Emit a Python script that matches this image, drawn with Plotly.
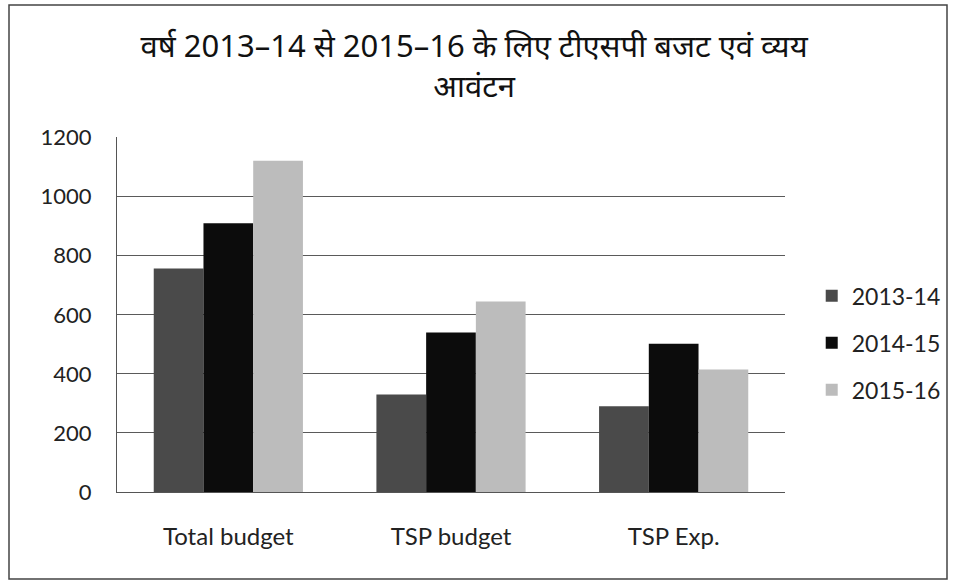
import plotly.graph_objects as go

categories = ["Total budget", "TSP budget", "TSP Exp."]
series_names = ["2013-14", "2014-15", "2015-16"]
v_2013_14 = [757, 330, 290]
v_2014_15 = [910, 540, 502]
v_2015_16 = [1122, 645, 415]
colors = ["#4a4a4a", "#0c0c0c", "#bcbcbc"]
y_ticks = [0, 200, 400, 600, 800, 1000, 1200]

W, H = 954, 582
L, R, T, B = 117, 169, 137, 90
pw, ph = W - L - R, H - T - B

fig = go.Figure()
for name, vals, col in zip(series_names, [v_2013_14, v_2014_15, v_2015_16], colors):
    fig.add_trace(go.Bar(x=categories, y=vals, name=name, legendgroup=name,
                         marker=dict(color=col, line=dict(width=0))))

def px_x(p):
    return (p - L) / pw

def px_y(p):
    return (H - B - p) / ph

fig.update_layout(
    width=W, height=H,
    margin=dict(l=L, r=R, t=T, b=B, autoexpand=False),
    paper_bgcolor="white", plot_bgcolor="white",
    barmode="group", bargap=0.33, bargroupgap=0,
    title=dict(text="वर्ष 2013–14 से 2015–16 के लिए टीएसपी बजट एवं व्यय<br>आवंटन",
               x=0.497, xref="container", xanchor="center", y=0.902, yref="container",
               yanchor="top",
               font=dict(family="Noto Sans, Liberation Sans, sans-serif", size=31, color="#111")),
    font=dict(family="Lato, Open Sans, sans-serif", size=20, color="#222"),
    xaxis=dict(showgrid=False, showline=True, linecolor="#555", linewidth=1,
               ticks="", tickfont=dict(size=24), ticklabelstandoff=23),
    yaxis=dict(range=[0, 1202], tickvals=y_ticks, showgrid=True, gridcolor="#5a5a5a",
               gridwidth=1, showline=True, linecolor="#555", linewidth=1,
               ticks="", tickfont=dict(size=22), ticklabelstandoff=20, zeroline=False),
    legend=dict(x=1.040, xanchor="left", y=0.42, yanchor="middle",
                font=dict(size=23), tracegroupgap=14, bgcolor="rgba(0,0,0,0)"),
    shapes=[dict(type="rect", xref="paper", yref="paper",
                 x0=px_x(9), x1=px_x(947), y0=px_y(579), y1=px_y(5),
                 line=dict(color="#444", width=1.5))],
)

fig.write_html("out.html", config={"displayModeBar": False},
               post_script="document.body.style.margin='0';")
